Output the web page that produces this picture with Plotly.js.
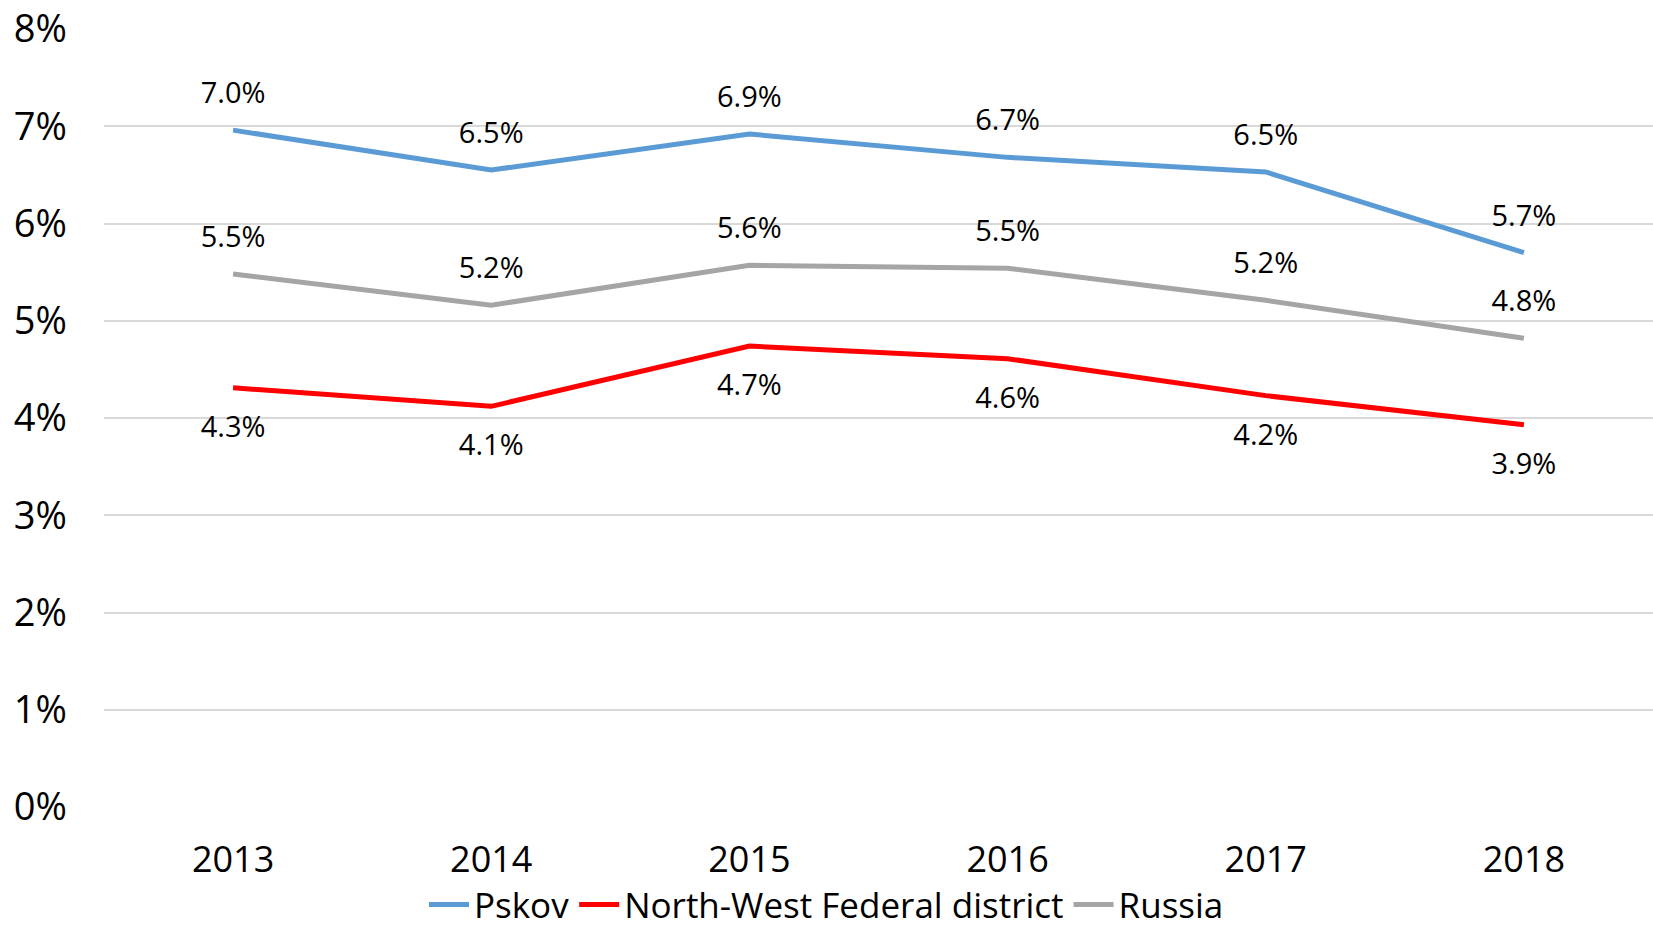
<!DOCTYPE html>
<html>
<head>
<meta charset="utf-8">
<script src="https://cdn.plot.ly/plotly-3.0.1.min.js"></script>
<style>html,body{margin:0;padding:0;background:#fff;}#chart{width:1653px;height:929px;}</style>
</head>
<body>
<div id="chart"></div>
<script>
const years = ['2013', '2014', '2015', '2016', '2017', '2018'];
const pskov = [6.96, 6.55, 6.92, 6.68, 6.53, 5.70];
const northWest = [4.31, 4.12, 4.74, 4.61, 4.23, 3.93];
const russia = [5.48, 5.16, 5.57, 5.54, 5.21, 4.82];
const seriesNames = ['Pskov', 'North-West Federal district', 'Russia'];
const yTicks = [0, 1, 2, 3, 4, 5, 6, 7, 8];

const FONT = 'Open Sans, Lato, sans-serif';
const colors = ['#5b9bd5', '#ff0000', '#a5a5a5'];
const seriesData = [pskov, northWest, russia];
const textPos = ['top center', 'bottom center', 'top center'];
const ghostMarker = [30, 42, 30];

const lineTraces = seriesData.map((vals, i) => ({
  type: 'scatter',
  mode: 'lines',
  x: years,
  y: vals,
  name: seriesNames[i],
  line: {color: colors[i], width: 5},
  hoverinfo: 'skip'
}));

const labelTraces = seriesData.map((vals, i) => ({
  type: 'scatter',
  mode: 'markers+text',
  x: years,
  y: vals,
  showlegend: false,
  marker: {size: ghostMarker[i], opacity: 0, color: colors[i]},
  text: vals.map(v => v.toFixed(1) + '%'),
  textposition: textPos[i],
  textfont: {family: FONT, size: 29, color: '#000'},
  cliponaxis: false,
  hoverinfo: 'skip'
}));

const layout = {
  width: 1653, height: 929,
  margin: {l: 104, r: 0, t: 29, b: 122},
  paper_bgcolor: '#ffffff',
  plot_bgcolor: '#ffffff',
  showlegend: true,
  legend: {
    orientation: 'h', x: 0.5, xref: 'container', xanchor: 'center',
    y: 0.026, yref: 'container', yanchor: 'middle',
    bgcolor: 'rgba(0,0,0,0)',
    font: {family: FONT, size: 35, color: '#000'},
    itemwidth: 40, tracegroupgap: 0
  },
  xaxis: {
    type: 'category',
    range: [-0.5, 5.5],
    showgrid: false, zeroline: false, showline: false,
    ticks: '',
    ticklabelstandoff: 28,
    tickfont: {family: FONT, size: 36, color: '#000'}
  },
  yaxis: {
    range: [0, 8],
    tickvals: yTicks,
    ticktext: yTicks.map(t => t + '%'),
    showgrid: true, gridcolor: '#d9d9d9', gridwidth: 2,
    zeroline: false, showline: false, ticks: '',
    ticklabelstandoff: 36,
    tickfont: {family: FONT, size: 38, color: '#000'}
  }
};

Plotly.newPlot('chart', lineTraces.concat(labelTraces), layout, {displayModeBar: false, staticPlot: true});
</script>
</body>
</html>
